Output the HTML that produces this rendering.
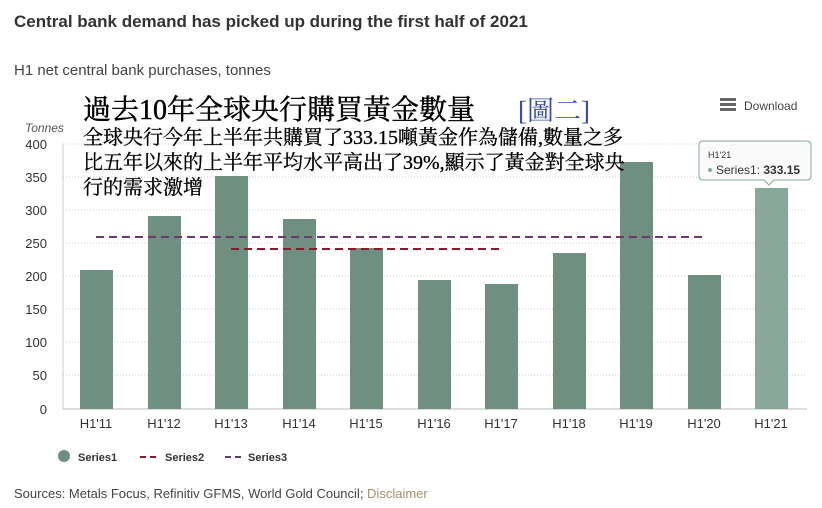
<!DOCTYPE html><html><head><meta charset="utf-8"><style>
body{margin:0;width:822px;height:508px;background:#fff;font-family:"Liberation Sans",sans-serif;overflow:hidden;position:relative}
.a{position:absolute;white-space:nowrap}
.cjk{font-family:"Liberation Serif","Noto Serif CJK SC","Noto Sans CJK TC",serif}
</style></head><body>
<div class="a" style="left:14px;top:12px;font-size:17px;font-weight:bold;color:#333">Central bank demand has picked up during the first half of 2021</div>
<div class="a" style="left:14px;top:62px;font-size:15px;color:#444">H1 net central bank purchases, tonnes</div>
<svg class="a" style="left:0;top:0" width="822" height="508">
<g stroke="#ccc" stroke-dasharray="1,2">
<line x1="63" x2="807" y1="144" y2="144"/><line x1="63" x2="807" y1="177" y2="177"/><line x1="63" x2="807" y1="210" y2="210"/><line x1="63" x2="807" y1="243" y2="243"/><line x1="63" x2="807" y1="276" y2="276"/><line x1="63" x2="807" y1="309" y2="309"/><line x1="63" x2="807" y1="342" y2="342"/><line x1="63" x2="807" y1="375" y2="375"/>
</g>
<line x1="63" x2="63" y1="144" y2="409" stroke="#ccc"/>
<line x1="63" x2="807" y1="409" y2="409" stroke="#bbb"/>
<g fill="#6f8f80">
<rect x="80" y="270" width="33" height="139"/><rect x="148" y="216" width="33" height="193"/><rect x="215" y="176" width="33" height="233"/><rect x="283" y="219" width="33" height="190"/><rect x="350" y="248" width="33" height="161"/><rect x="418" y="280" width="33" height="129"/><rect x="485" y="284" width="33" height="125"/><rect x="553" y="253" width="33" height="156"/><rect x="620" y="162" width="33" height="247"/><rect x="688" y="275" width="33" height="134"/><rect x="755" y="188" width="33" height="221" fill="#88a899"/>
</g>
<line x1="96" x2="702" y1="237" y2="237" stroke="#6b3a6b" stroke-width="2" stroke-dasharray="8,5"/>
<line x1="231" x2="500" y1="249" y2="249" stroke="#8b1a2b" stroke-width="2" stroke-dasharray="8,5"/>
<g fill="#333" font-size="13" text-anchor="end">
<text x="47" y="149">400</text><text x="47" y="182">350</text><text x="47" y="215">300</text><text x="47" y="248">250</text><text x="47" y="281">200</text><text x="47" y="314">150</text><text x="47" y="347">100</text><text x="47" y="380">50</text><text x="47" y="414">0</text>
</g>
<text x="25" y="132" font-size="12" font-style="italic" fill="#555">Tonnes</text>
<g fill="#333" font-size="13" text-anchor="middle">
<text x="96" y="428">H1'11</text><text x="164" y="428">H1'12</text><text x="231" y="428">H1'13</text><text x="299" y="428">H1'14</text><text x="366" y="428">H1'15</text><text x="434" y="428">H1'16</text><text x="501" y="428">H1'17</text><text x="569" y="428">H1'18</text><text x="636" y="428">H1'19</text><text x="704" y="428">H1'20</text><text x="771" y="428">H1'21</text>
</g>
<circle cx="64" cy="456" r="6" fill="#6f8f80"/>
<text x="78" y="461" font-size="11" font-weight="bold" fill="#333">Series1</text>
<line x1="140" x2="160" y1="457" y2="457" stroke="#8b1a2b" stroke-width="2" stroke-dasharray="6,4"/>
<text x="165" y="461" font-size="11" font-weight="bold" fill="#333">Series2</text>
<line x1="225" x2="245" y1="457" y2="457" stroke="#6b3a6b" stroke-width="2" stroke-dasharray="6,4"/>
<text x="248" y="461" font-size="11" font-weight="bold" fill="#333">Series3</text>
<rect x="720" y="98" width="16" height="3" fill="#666"/><rect x="720" y="103" width="16" height="3" fill="#666"/><rect x="720" y="108" width="16" height="3" fill="#666"/>
<text x="744" y="110" font-size="12" fill="#444">Download</text>
<path d="M703 141 H807 Q811 141 811 145 V176 Q811 180 807 180 H774 L769 185 L764 180 H703 Q699 180 699 176 V145 Q699 141 703 141Z" fill="#fafafa" stroke="#88a899"/>
<text x="708" y="158" font-size="9" fill="#333">H1'21</text>
<circle cx="710" cy="170" r="2" fill="#88a899"/>
<text x="716" y="174" font-size="12" fill="#333">Series1: <tspan font-weight="bold">333.15</tspan></text>
</svg>
<div class="a cjk" style="left:83px;top:88px;font-size:28px;color:#000;-webkit-text-stroke:0.4px #000">過去10年全球央行購買黃金數量</div>
<div class="a cjk" style="left:518px;top:89px;font-size:27px;color:#3a4aa8">[圖二]</div>
<div class="a cjk" style="left:83px;top:126px;font-size:20px;line-height:25px;color:#000;-webkit-text-stroke:0.3px #000">全球央行今年上半年共購買了333.15噸黃金作為儲備,數量之多<br>比五年以來的上半年平均水平高出了39%,顯示了黃金對全球央<br>行的需求激增</div>
<div class="a" style="left:14px;top:486px;font-size:13px;color:#444">Sources: Metals Focus, Refinitiv GFMS, World Gold Council; <span style="color:#a09070">Disclaimer</span></div>
</body></html>
